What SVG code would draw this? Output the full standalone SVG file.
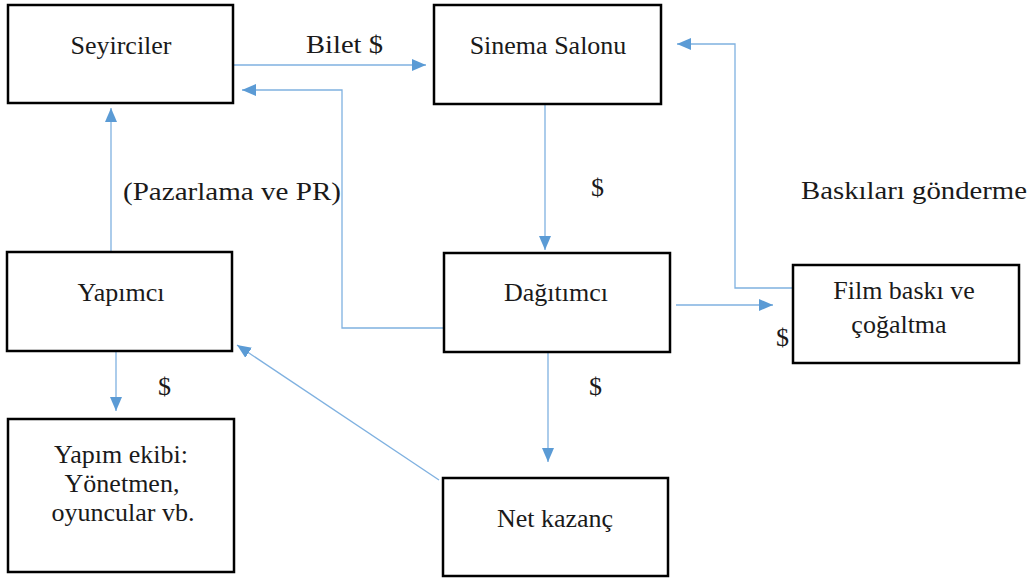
<svg xmlns="http://www.w3.org/2000/svg" width="1032" height="578" viewBox="0 0 1032 578">
  <style>
    .box { fill: #ffffff; stroke: #000000; stroke-width: 2.5; }
    text { font-family: 'Liberation Serif', 'Times New Roman', serif; font-size: 26px; fill: #1a1a1a; }
    .mid { text-anchor: middle; }
    .conn { fill: none; stroke: #7fb1e0; stroke-width: 1.3; marker-end: url(#ah); }
  </style>
  <defs>
    <marker id="ah" viewBox="0 0 14 12" refX="14" refY="6" markerWidth="14" markerHeight="12" markerUnits="userSpaceOnUse" orient="auto">
      <path d="M0,0 L14,6 L0,12 z" fill="#5b9bd5"/>
    </marker>
  </defs>
  <rect width="1032" height="578" fill="#ffffff"/>

  <g id="connectors">
    <line class="conn" x1="233" y1="65" x2="426" y2="65"/>
    <polyline class="conn" points="443,328 342,328 342,90 242,90"/>
    <line class="conn" x1="111" y1="252" x2="111" y2="108"/>
    <line class="conn" x1="545" y1="104" x2="545" y2="250"/>
    <polyline class="conn" points="794,288 735,288 735,44 677,44"/>
    <line class="conn" x1="676" y1="305" x2="773" y2="305"/>
    <line class="conn" x1="548" y1="352" x2="548" y2="462"/>
    <line class="conn" x1="439" y1="480" x2="237" y2="345"/>
    <line class="conn" x1="116" y1="351" x2="116" y2="411"/>
  </g>

  <g id="labels">
    <text x="306" y="53" textLength="77" lengthAdjust="spacingAndGlyphs">Bilet $</text>
    <text x="123" y="200" textLength="218" lengthAdjust="spacingAndGlyphs">(Pazarlama ve PR)</text>
    <text x="591" y="196">$</text>
    <text x="801" y="199" textLength="226" lengthAdjust="spacingAndGlyphs">Baskıları gönderme</text>
    <text x="776" y="346">$</text>
    <text x="589" y="395">$</text>
    <text x="158" y="395">$</text>
  </g>

  <g id="seyirciler">
    <rect class="box" x="8" y="5" width="225" height="98"/>
    <text class="mid" x="121" y="54">Seyirciler</text>
  </g>
  <g id="sinema-salonu">
    <rect class="box" x="434" y="5" width="227" height="99"/>
    <text class="mid" x="548" y="54">Sinema Salonu</text>
  </g>
  <g id="yapimci">
    <rect class="box" x="7" y="252" width="225" height="99"/>
    <text class="mid" x="121" y="301">Yapımcı</text>
  </g>
  <g id="dagitimci">
    <rect class="box" x="444" y="253" width="226" height="99"/>
    <text class="mid" x="556" y="301">Dağıtımcı</text>
  </g>
  <g id="film-baski">
    <rect class="box" x="793" y="265" width="226" height="98"/>
    <text class="mid" x="904" y="299">Film baskı ve</text>
    <text class="mid" x="899" y="333">çoğaltma</text>
  </g>
  <g id="yapim-ekibi">
    <rect class="box" x="8" y="419" width="226" height="153"/>
    <text class="mid" x="121" y="463">Yapım ekibi:</text>
    <text class="mid" x="122" y="492">Yönetmen,</text>
    <text class="mid" x="123" y="521">oyuncular vb.</text>
  </g>
  <g id="net-kazanc">
    <rect class="box" x="443" y="478" width="225" height="98"/>
    <text class="mid" x="555" y="527">Net kazanç</text>
  </g>
</svg>
